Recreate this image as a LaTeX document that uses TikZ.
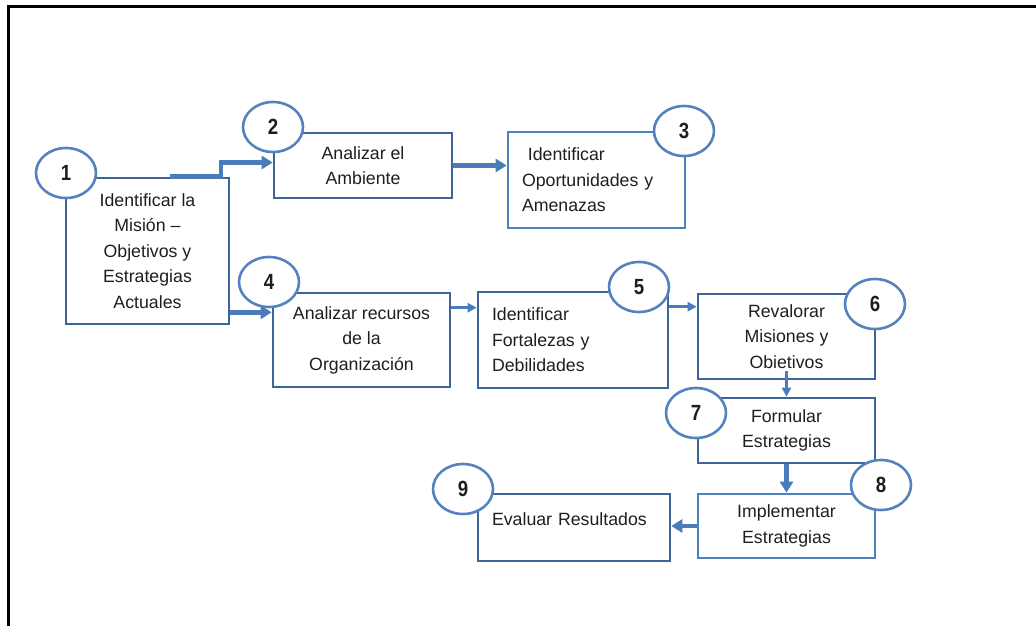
\documentclass[tikz,border=0pt]{standalone}
\usepackage{fontspec}
\setmainfont{Liberation Sans}
\newfontfamily\numfont[FakeStretch=0.85]{Liberation Sans}
\usetikzlibrary{shapes.geometric,arrows.meta}
\newlength\px
\setlength\px{0.02cm}
\definecolor{boxdark}{RGB}{62,101,155}
\definecolor{boxlight}{RGB}{79,129,189}
\definecolor{circblue}{RGB}{84,130,190}
\definecolor{arrblue}{RGB}{74,124,186}
\definecolor{txtgrey}{RGB}{30,30,30}
\tikzset{
  procbox/.style 2 args={draw=boxdark, line width=2.6\px, inner sep=0pt,
    minimum width=#1\px, minimum height=#2\px, align=center, text=txtgrey,
    font=\fontsize{10.1}{14.5}\selectfont},
  leftbox/.style={align=left, inner xsep=14\px, text width=#1\px},
  numcirc/.style={ellipse, draw=circblue, fill=white, line width=2.6\px,
    inner sep=0pt, minimum width=60\px, minimum height=50\px, text=txtgrey,
    font=\numfont\bfseries\fontsize{12.5}{14}\selectfont},
  flowthick/.style={draw=arrblue, line width=4.5\px, -{Triangle[length=0.22cm,width=0.26cm]}},
  flowthin/.style={draw=arrblue, line width=2.5\px, -{Triangle[length=0.18cm,width=0.18cm]}}
}
\begin{document}
\begin{tikzpicture}[x=0.02cm, y=-0.02cm]
\useasboundingbox (0,0) rectangle (1036,626);
\draw[line width=3.5\px] (8.5,660) |- (1070,6.5);

% steps
\node[procbox={163}{146}] (b1) at (147.5,251) {Identificar la\\Misión –\\Objetivos y\\Estrategias\\Actuales};
\node[procbox={178}{65}] (b2) at (363,165.5) {Analizar el\\Ambiente};
\node[procbox={177}{96}, draw=boxlight, leftbox=149] (b3) at (596.5,180) {\ Identificar\\Oportunidades y\\Amenazas};
\node[procbox={177}{94}] (b4) at (361.5,340) {Analizar recursos\\de la\\Organización};
\node[procbox={190}{96}, leftbox=162] (b5) at (573,340) {Identificar\\Fortalezas y\\Debilidades};
\node[procbox={177}{85}] (b6) at (786.5,336.5) {Revalorar\\Misiones y\\Obietivos};
\node[procbox={177}{65}] (b7) at (786.5,430.5) {Formular\\Estrategias};
\node[procbox={177}{64}, draw=boxlight] (b8) at (786.5,526) {Implementar\\Estrategias};
\node[procbox={192}{67}, leftbox=164, text height=7.5pt, text depth=9.8pt] (b9) at (574,527.5) {Evaluar Resultados};

% connectors
\draw[flowthick] ([xshift=0.45cm]b1.north) -- ++(51,0) |- ([yshift=0.06cm]b2.west);
\draw[flowthick] (b2.east) -- (b2.east -| b3.west);
\coordinate (s14) at ([yshift=0.26cm]b1.south east);
\draw[flowthick] (s14) -- (s14 -| b4.west);
\coordinate (s45) at ([yshift=-0.32cm]b4.north east);
\draw[flowthin] (s45) -- (s45 -| b5.west);
\coordinate (s56) at ([yshift=-0.32cm]b5.north east);
\draw[flowthin] (s56) -- (s56 -| b6.west);
\draw[flowthin] ([yshift=0.18cm]b6.south) -- (b7.north);
\draw[flowthick] (b7.south) -- (b8.north);
\draw[flowthick] (b8.west) -- (b8.west -| b9.east);

% numbers
\node[numcirc] (n1) at (66,173) {1};
\node[numcirc] (n2) at (273,127) {2};
\node[numcirc] (n3) at (684,131) {3};
\node[numcirc] (n4) at (269,282) {4};
\node[numcirc] (n5) at (639,287) {5};
\node[numcirc] (n6) at (875,304) {6};
\node[numcirc] (n7) at (696,413) {7};
\node[numcirc] (n8) at (881,485) {8};
\node[numcirc] (n9) at (463,489) {9};
\end{tikzpicture}
\end{document}
